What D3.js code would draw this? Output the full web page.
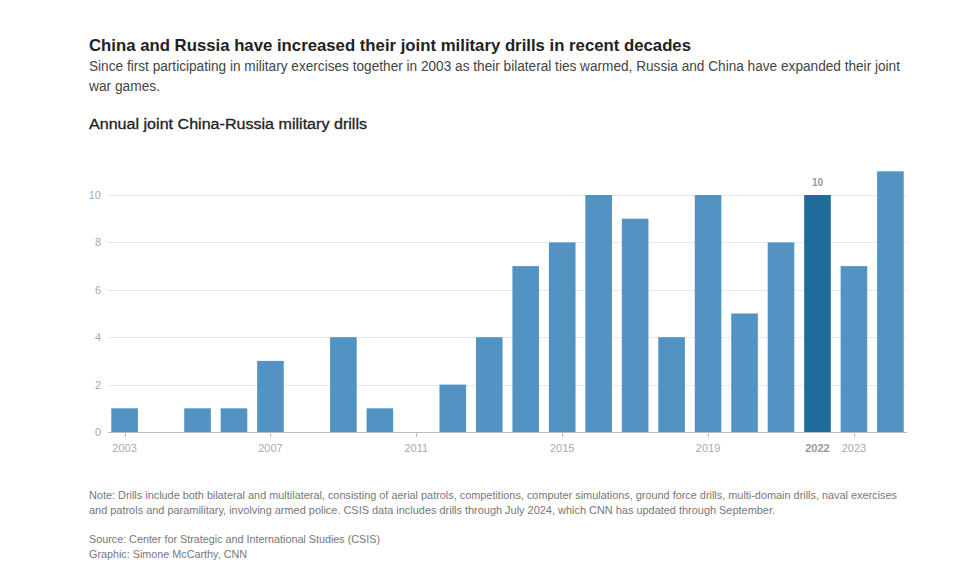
<!DOCTYPE html>
<html><head><meta charset="utf-8">
<script src="https://cdn.jsdelivr.net/npm/d3@7"></script>
<style>body{margin:0;background:#fff;}svg{display:block;}</style>
</head><body>
<svg id="c" width="956" height="573"></svg>
<script>
const years = ["2003","2004","2005","2006","2007","2008","2009","2010","2011","2012","2013","2014","2015","2016","2017","2018","2019","2020","2021","2022","2023","2024"];
const drills = [1,0,1,1,3,0,4,1,0,2,4,7,8,10,9,4,10,5,8,10,7,11];
const highlightYear = "2022";
const xTickLabels = ["2003","2007","2011","2015","2019","2022","2023"];
const yTicks = [0,2,4,6,8,10];
const title = "China and Russia have increased their joint military drills in recent decades";
const subtitle = ["Since first participating in military exercises together in 2003 as their bilateral ties warmed, Russia and China have expanded their joint", "war games."];
const chartTitle = "Annual joint China-Russia military drills";
const notes = ["Note: Drills include both bilateral and multilateral, consisting of aerial patrols, competitions, computer simulations, ground force drills, multi-domain drills, naval exercises", "and patrols and paramilitary, involving armed police. CSIS data includes drills through July 2024, which CNN has updated through September."];
const credits = ["Source: Center for Strategic and International Studies (CSIS)", "Graphic: Simone McCarthy, CNN"];

const svg = d3.select("#c");
const F = "'Liberation Sans',Arial,Helvetica,sans-serif";

function txt(s, x, y, size, weight, color, len){
  const t = svg.append("text").attr("x",x).attr("y",y).text(s)
    .attr("font-family",F).attr("font-size",size).attr("font-weight",weight).attr("fill",color);
  if(len) t.attr("textLength",len).attr("lengthAdjust","spacingAndGlyphs");
  return t;
}
txt(title, 89, 51, 17, 700, "#222", 602);
txt(subtitle[0], 89, 71, 14, 400, "#444", 811);
txt(subtitle[1], 89, 91, 14, 400, "#444", 71);
txt(chartTitle, 89, 129, 14, 400, "#222", 278).attr("stroke","#222").attr("stroke-width",0.3);
txt(notes[0], 89, 499, 11, 400, "#777", 808);
txt(notes[1], 89, 514, 11, 400, "#777", 686);
txt(credits[0], 89, 543, 11, 400, "#777", 291);
txt(credits[1], 89, 558, 11, 400, "#777", 158);

const x = d3.scaleBand().domain(years).range([108,907]).paddingInner(0.27).paddingOuter(0.09);
const y = d3.scaleLinear().domain([0,10]).range([432,195]);

const g = svg.append("g");
g.selectAll("line.grid").data(yTicks.filter(d=>d>0)).join("line")
  .attr("x1",108).attr("x2",907).attr("y1",d=>Math.round(y(d))+0.5).attr("y2",d=>Math.round(y(d))+0.5)
  .attr("stroke","#e8e8e8").attr("stroke-width",1);
g.selectAll("text.yl").data(yTicks).join("text")
  .attr("x",101).attr("y",d=>y(d)+4).attr("text-anchor","end")
  .attr("font-family",F).attr("font-size",11).attr("fill","#aaaaaa")
  .text(d=>d);
g.selectAll("rect").data(years.map((yr,i)=>({yr,v:drills[i]}))).join("rect")
  .attr("x",d=>x(d.yr)).attr("width",x.bandwidth())
  .attr("y",d=>y(d.v)).attr("height",d=>y(0)-y(d.v))
  .attr("fill",d=>d.yr===highlightYear?"#1e6c9b":"#5293c4");
const hv = drills[years.indexOf(highlightYear)];
g.append("text").attr("x",x(highlightYear)+x.bandwidth()/2).attr("y",y(hv)-9)
  .attr("text-anchor","middle").attr("font-family",F)
  .attr("font-size",10).attr("font-weight",700).attr("fill","#999").text(hv);
g.append("line").attr("x1",108).attr("x2",907).attr("y1",432.5).attr("y2",432.5)
  .attr("stroke","#bbb").attr("stroke-width",1);
g.selectAll("line.tk").data(xTickLabels.filter(d=>d!==highlightYear)).join("line")
  .attr("x1",d=>Math.round(x(d)+x.bandwidth()/2)+0.5).attr("x2",d=>Math.round(x(d)+x.bandwidth()/2)+0.5)
  .attr("y1",433).attr("y2",437).attr("stroke","#bbb");
g.selectAll("text.xl").data(xTickLabels).join("text")
  .attr("x",d=>x(d)+x.bandwidth()/2).attr("y",452).attr("text-anchor","middle")
  .attr("font-family",F).attr("font-size",11)
  .attr("font-weight",d=>d===highlightYear?700:400)
  .attr("fill",d=>d===highlightYear?"#999":"#aaa").text(d=>d);
</script>
</body></html>
